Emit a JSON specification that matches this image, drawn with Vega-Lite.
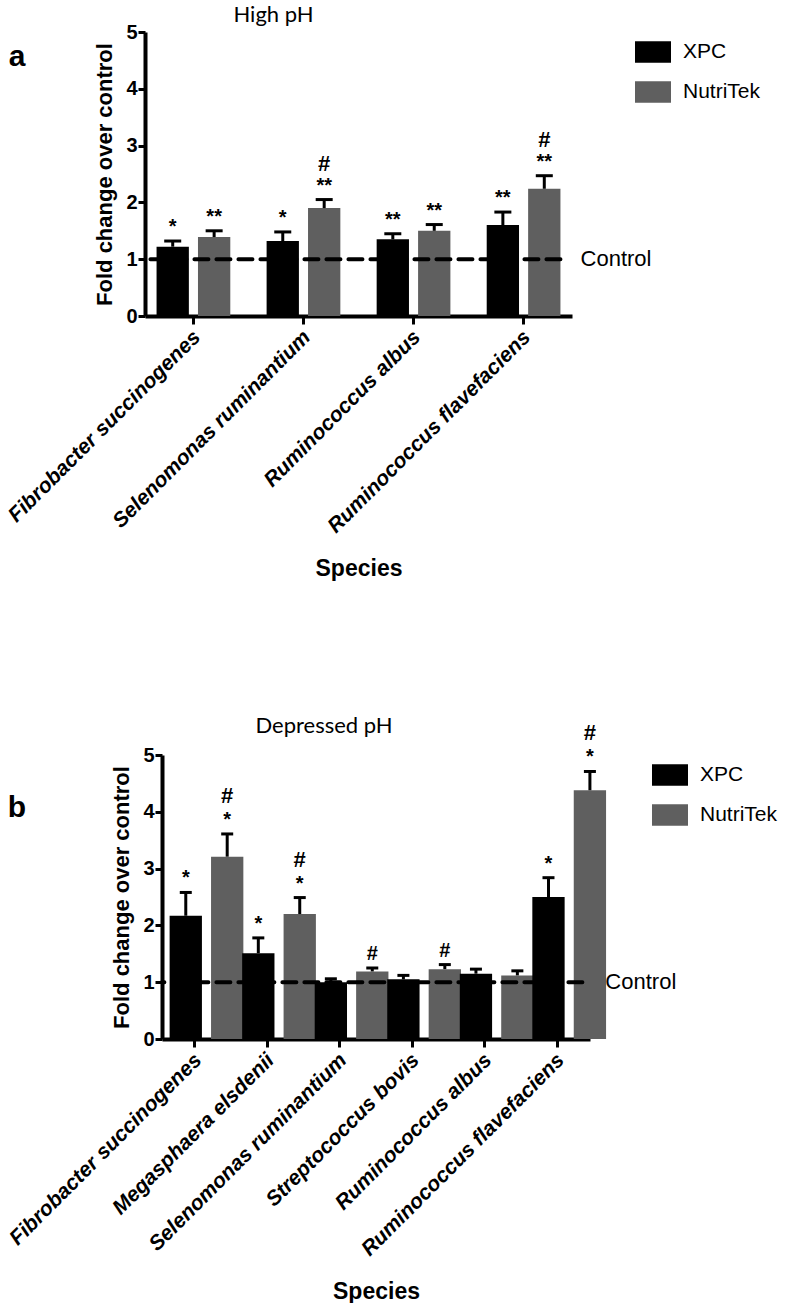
{
  "$schema": "https://vega.github.io/schema/vega-lite/v6.json",
  "background": "white",
  "padding": {"left": 4, "top": 4, "right": 0, "bottom": 0},
  "config": {
    "view": {"stroke": null},
    "font": "Liberation Sans",
    "axis": {
      "grid": false,
      "domainColor": "black",
      "domainWidth": 4,
      "tickColor": "black",
      "tickWidth": 3,
      "labelFont": "Liberation Sans",
      "labelFontWeight": "bold",
      "labelColor": "black",
      "labelLimit": 0,
      "titleFont": "Liberation Sans",
      "titleFontWeight": "bold",
      "titleColor": "black"
    }
  },
  "datasets": {
    "high": [
      {"species": "Fibrobacter succinogenes", "group": "XPC", "mean": 1.22, "upper": 1.32, "sig": "*", "hash": ""},
      {"species": "Fibrobacter succinogenes", "group": "NutriTek", "mean": 1.39, "upper": 1.50, "sig": "**", "hash": ""},
      {"species": "Selenomonas ruminantium", "group": "XPC", "mean": 1.32, "upper": 1.48, "sig": "*", "hash": ""},
      {"species": "Selenomonas ruminantium", "group": "NutriTek", "mean": 1.90, "upper": 2.05, "sig": "**", "hash": "#"},
      {"species": "Ruminococcus albus", "group": "XPC", "mean": 1.35, "upper": 1.45, "sig": "**", "hash": ""},
      {"species": "Ruminococcus albus", "group": "NutriTek", "mean": 1.50, "upper": 1.61, "sig": "**", "hash": ""},
      {"species": "Ruminococcus flavefaciens", "group": "XPC", "mean": 1.60, "upper": 1.83, "sig": "**", "hash": ""},
      {"species": "Ruminococcus flavefaciens", "group": "NutriTek", "mean": 2.24, "upper": 2.47, "sig": "**", "hash": "#"}
    ],
    "depressed": [
      {"species": "Fibrobacter succinogenes", "group": "XPC", "mean": 2.17, "upper": 2.58, "sig": "*", "hash": ""},
      {"species": "Fibrobacter succinogenes", "group": "NutriTek", "mean": 3.21, "upper": 3.61, "sig": "*", "hash": "#"},
      {"species": "Megasphaera elsdenii", "group": "XPC", "mean": 1.51, "upper": 1.78, "sig": "*", "hash": ""},
      {"species": "Megasphaera elsdenii", "group": "NutriTek", "mean": 2.20, "upper": 2.49, "sig": "*", "hash": "#"},
      {"species": "Selenomonas ruminantium", "group": "XPC", "mean": 1.00, "upper": 1.06, "sig": "", "hash": ""},
      {"species": "Selenomonas ruminantium", "group": "NutriTek", "mean": 1.19, "upper": 1.25, "sig": "#", "hash": ""},
      {"species": "Streptococcus bovis", "group": "XPC", "mean": 1.05, "upper": 1.12, "sig": "", "hash": ""},
      {"species": "Streptococcus bovis", "group": "NutriTek", "mean": 1.23, "upper": 1.31, "sig": "#", "hash": ""},
      {"species": "Ruminococcus albus", "group": "XPC", "mean": 1.15, "upper": 1.23, "sig": "", "hash": ""},
      {"species": "Ruminococcus albus", "group": "NutriTek", "mean": 1.12, "upper": 1.20, "sig": "", "hash": ""},
      {"species": "Ruminococcus flavefaciens", "group": "XPC", "mean": 2.50, "upper": 2.84, "sig": "*", "hash": ""},
      {"species": "Ruminococcus flavefaciens", "group": "NutriTek", "mean": 4.38, "upper": 4.71, "sig": "*", "hash": "#"}
    ],
    "control": [{"level": 1}]
  },
  "vconcat": [
    {
      "spacing": -22,
      "resolve": {"scale": {"color": "independent"}, "legend": {"color": "independent"}},
      "hconcat": [
        {
          "width": 18,
          "height": 50,
          "data": {"values": [{"letter": "a"}]},
          "mark": {"type": "text", "font": "Liberation Sans", "fontSize": 30, "fontWeight": "bold", "align": "center", "baseline": "middle", "color": "black"},
          "encoding": {"text": {"field": "letter"}}
        },
        {
          "title": {"text": "High pH", "font": "Lato", "fontSize": 22, "fontWeight": "normal", "color": "black", "anchor": "middle", "dx": -85, "offset": -5},
          "width": 427,
          "height": 284,
          "layer": [
            {
              "data": {"name": "high"},
              "mark": {"type": "bar"},
              "encoding": {
                "x": {"field": "species", "type": "nominal", "sort": null, "title": "Species",
                      "scale": {"paddingInner": 0.33, "paddingOuter": 0.105},
                      "axis": {"labelAngle": -45, "labelFontSize": 21, "labelFontStyle": "italic", "tickSize": 8, "labelPadding": 2, "labelOffset": -4, "titleFontSize": 23, "titlePadding": 41}},
                "xOffset": {"field": "group", "type": "nominal", "sort": ["XPC", "NutriTek"], "scale": {"paddingInner": 0.22, "paddingOuter": 0}},
                "y": {"field": "mean", "type": "quantitative", "title": "Fold change over control",
                      "scale": {"domain": [0, 5], "nice": false},
                      "axis": {"values": [0, 1, 2, 3, 4, 5], "format": "d", "labelFontSize": 20, "tickSize": 7, "labelPadding": 1, "titleFontSize": 22, "titlePadding": 9}},
                "color": {"field": "group", "type": "nominal",
                          "scale": {"domain": ["XPC", "NutriTek"], "range": ["#000000", "#5f5f5f"]},
                          "legend": {"title": null, "orient": "right", "offset": 61, "padding": 2, "symbolType": "M-1,-0.6H1V0.6H-1Z", "symbolSize": 1296, "symbolStrokeWidth": 0, "symbolOpacity": 1, "labelFont": "Liberation Sans", "labelFontSize": 21, "labelColor": "black", "rowPadding": 11, "labelOffset": 12}}
              }
            },
            {
              "data": {"name": "high"},
              "mark": {"type": "rule", "strokeWidth": 3, "color": "black"},
              "encoding": {
                "x": {"field": "species", "type": "nominal", "sort": null},
                "xOffset": {"field": "group", "type": "nominal", "sort": ["XPC", "NutriTek"]},
                "y": {"field": "mean", "type": "quantitative"},
                "y2": {"field": "upper"}
              }
            },
            {
              "data": {"name": "high"},
              "mark": {"type": "tick", "orient": "horizontal", "thickness": 3, "size": 17, "color": "black", "opacity": 1},
              "encoding": {
                "x": {"field": "species", "type": "nominal", "sort": null},
                "xOffset": {"field": "group", "type": "nominal", "sort": ["XPC", "NutriTek"]},
                "y": {"field": "upper", "type": "quantitative"}
              }
            },
            {
              "data": {"name": "high"},
              "mark": {"type": "text", "baseline": "bottom", "font": "Liberation Sans", "fontSize": 20, "fontWeight": "bold", "dy": -4, "color": "black"},
              "encoding": {
                "x": {"field": "species", "type": "nominal", "sort": null},
                "xOffset": {"field": "group", "type": "nominal", "sort": ["XPC", "NutriTek"]},
                "y": {"field": "upper", "type": "quantitative"},
                "text": {"field": "sig"}
              }
            },
            {
              "data": {"name": "high"},
              "mark": {"type": "text", "baseline": "bottom", "font": "Liberation Sans", "fontSize": 22, "fontWeight": "bold", "dy": -24, "color": "black"},
              "encoding": {
                "x": {"field": "species", "type": "nominal", "sort": null},
                "xOffset": {"field": "group", "type": "nominal", "sort": ["XPC", "NutriTek"]},
                "y": {"field": "upper", "type": "quantitative"},
                "text": {"field": "hash"}
              }
            },
            {
              "data": {"name": "control"},
              "mark": {"type": "rule", "strokeWidth": 4, "strokeDash": [14, 8], "strokeCap": "round", "color": "black"},
              "encoding": {
                "x": {"datum": "Ruminococcus flavefaciens", "bandPosition": 1},
                "x2": {"value": 0},
                "y": {"field": "level", "type": "quantitative"}
              }
            },
            {
              "data": {"name": "control"},
              "mark": {"type": "text", "align": "left", "baseline": "middle", "font": "Liberation Sans", "fontSize": 22, "dx": 57, "color": "black"},
              "encoding": {
                "x": {"datum": "Ruminococcus flavefaciens"},
                "y": {"field": "level", "type": "quantitative"},
                "text": {"value": "Control"}
              }
            }
          ]
        }
      ]
    },
    {
      "spacing": -22,
      "resolve": {"scale": {"color": "independent"}, "legend": {"color": "independent"}},
      "hconcat": [
        {
          "width": 18,
          "height": 106,
          "data": {"values": [{"letter": "b"}]},
          "mark": {"type": "text", "font": "Liberation Sans", "fontSize": 30, "fontWeight": "bold", "align": "center", "baseline": "middle", "color": "black"},
          "encoding": {"text": {"field": "letter"}}
        },
        {
          "title": {"text": "Depressed pH", "font": "Lato", "fontSize": 22, "fontWeight": "normal", "color": "black", "anchor": "middle", "dx": -52, "offset": -16},
          "width": 428,
          "height": 284,
          "layer": [
            {
              "data": {"name": "depressed"},
              "mark": {"type": "bar"},
              "encoding": {
                "x": {"field": "species", "type": "nominal", "sort": null, "title": "Species",
                      "scale": {"paddingInner": 0.31, "paddingOuter": 0.105},
                      "axis": {"labelAngle": -45, "labelFontSize": 21, "labelFontStyle": "italic", "tickSize": 8, "labelPadding": 2, "labelOffset": -4, "titleFontSize": 23, "titlePadding": 41}},
                "xOffset": {"field": "group", "type": "nominal", "sort": ["XPC", "NutriTek"], "scale": {"paddingInner": 0.21, "paddingOuter": 0}},
                "y": {"field": "mean", "type": "quantitative", "title": "Fold change over control",
                      "scale": {"domain": [0, 5], "nice": false},
                      "axis": {"values": [0, 1, 2, 3, 4, 5], "format": "d", "labelFontSize": 20, "tickSize": 7, "labelPadding": 1, "titleFontSize": 22, "titlePadding": 9}},
                "color": {"field": "group", "type": "nominal",
                          "scale": {"domain": ["XPC", "NutriTek"], "range": ["#000000", "#5f5f5f"]},
                          "legend": {"title": null, "orient": "right", "offset": 60, "padding": 2, "symbolType": "M-1,-0.6H1V0.6H-1Z", "symbolSize": 1296, "symbolStrokeWidth": 0, "symbolOpacity": 1, "labelFont": "Liberation Sans", "labelFontSize": 21, "labelColor": "black", "rowPadding": 11, "labelOffset": 12}}
              }
            },
            {
              "data": {"name": "depressed"},
              "mark": {"type": "rule", "strokeWidth": 3, "color": "black"},
              "encoding": {
                "x": {"field": "species", "type": "nominal", "sort": null},
                "xOffset": {"field": "group", "type": "nominal", "sort": ["XPC", "NutriTek"]},
                "y": {"field": "mean", "type": "quantitative"},
                "y2": {"field": "upper"}
              }
            },
            {
              "data": {"name": "depressed"},
              "mark": {"type": "tick", "orient": "horizontal", "thickness": 3, "size": 12, "color": "black", "opacity": 1},
              "encoding": {
                "x": {"field": "species", "type": "nominal", "sort": null},
                "xOffset": {"field": "group", "type": "nominal", "sort": ["XPC", "NutriTek"]},
                "y": {"field": "upper", "type": "quantitative"}
              }
            },
            {
              "data": {"name": "depressed"},
              "mark": {"type": "text", "baseline": "bottom", "font": "Liberation Sans", "fontSize": 20, "fontWeight": "bold", "dy": -4, "color": "black"},
              "encoding": {
                "x": {"field": "species", "type": "nominal", "sort": null},
                "xOffset": {"field": "group", "type": "nominal", "sort": ["XPC", "NutriTek"]},
                "y": {"field": "upper", "type": "quantitative"},
                "text": {"field": "sig"}
              }
            },
            {
              "data": {"name": "depressed"},
              "mark": {"type": "text", "baseline": "bottom", "font": "Liberation Sans", "fontSize": 22, "fontWeight": "bold", "dy": -26, "color": "black"},
              "encoding": {
                "x": {"field": "species", "type": "nominal", "sort": null},
                "xOffset": {"field": "group", "type": "nominal", "sort": ["XPC", "NutriTek"]},
                "y": {"field": "upper", "type": "quantitative"},
                "text": {"field": "hash"}
              }
            },
            {
              "data": {"name": "control"},
              "mark": {"type": "rule", "strokeWidth": 4, "strokeDash": [14, 8], "strokeCap": "round", "color": "black"},
              "encoding": {
                "x": {"datum": "Ruminococcus flavefaciens", "bandPosition": 1},
                "x2": {"value": 0},
                "y": {"field": "level", "type": "quantitative"}
              }
            },
            {
              "data": {"name": "control"},
              "mark": {"type": "text", "align": "left", "baseline": "middle", "font": "Liberation Sans", "fontSize": 22, "dx": 48, "color": "black"},
              "encoding": {
                "x": {"datum": "Ruminococcus flavefaciens"},
                "y": {"field": "level", "type": "quantitative"},
                "text": {"value": "Control"}
              }
            }
          ]
        }
      ]
    }
  ],
  "spacing": 135,
  "resolve": {"scale": {"color": "independent"}, "legend": {"color": "independent"}}
}
